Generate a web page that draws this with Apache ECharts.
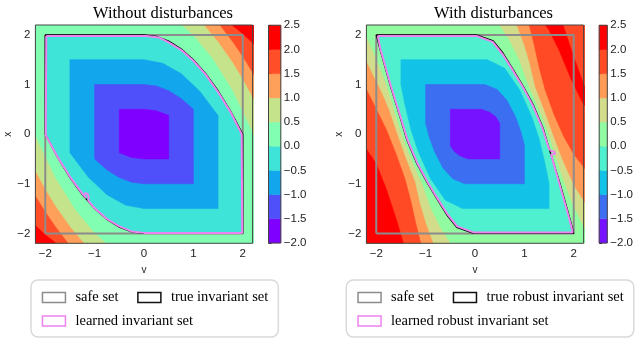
<!DOCTYPE html>
<html><head><meta charset="utf-8">
<script src="https://cdn.jsdelivr.net/npm/echarts@6/dist/echarts.min.js"></script>
<style>html,body{margin:0;padding:0;background:#fff}#c{width:636px;height:338px}</style>
</head><body><div id="c"></div>
<script>
// ---------- data ----------
const vTicks = [-2, -1, 0, 1, 2];
const xTicks = [-2, -1, 0, 1, 2];
const levels = [-2, -1.5, -1, -0.5, 0, 0.5, 1, 1.5, 2, 2.5];
const leftColors  = ['#7f00ff','#4f50fa','#12a6ec','#3ee4d7','#82feb2','#c5e38b','#ffa05a','#ff4e28','#ff0000'];
const rightColors = ['#7612ff','#3c6ef2','#12c3e7','#4ef0cf','#90fba0','#d3dc8a','#ff9b55','#ff4a25','#ff0000'];

const fullBox = [[-2.4,-2.4],[2.4,-2.4],[2.4,2.4],[-2.4,2.4]];

// left panel contour regions
const L_in20 = [[-2,2],[0,2],[0.25,1.97],[0.5,1.875],[0.75,1.72],[1,1.5],[1.25,1.22],[1.5,0.875],[1.75,0.47],[2,0],[2,-2],[0,-2],[-0.25,-1.97],[-0.5,-1.875],[-0.75,-1.72],[-1,-1.5],[-1.25,-1.22],[-1.5,-0.875],[-1.75,-0.47],[-2,0]];
const L_in15 = [[-1.5,1.5],[0,1.5],[0.375,1.43],[0.75,1.22],[1.125,0.87],[1.5,0.375],[1.5,-1.5],[0,-1.5],[-0.375,-1.43],[-0.75,-1.22],[-1.125,-0.87],[-1.5,-0.375]];
const L_in10 = [[-1,1],[0,1],[0.25,0.97],[0.5,0.875],[0.75,0.72],[1,0.5],[1,-1],[0,-1],[-0.25,-0.97],[-0.5,-0.875],[-0.75,-0.72],[-1,-0.5]];
const L_in05 = [[-0.5,0.5],[0,0.5],[0.25,0.47],[0.5,0.375],[0.5,-0.5],[0,-0.5],[-0.25,-0.47],[-0.5,-0.375]];
const L_o05 = [[0.68,2.3],[0.77,2.2],[1.0,2.0],[1.4,1.52],[1.8,0.88],[2.2,0.05],[2.3,-0.2],[2.4,2.4]];
const L_o10 = [[1.16,2.3],[1.22,2.2],[1.5,1.87],[1.8,1.45],[2.0,1.12],[2.2,0.76],[2.3,0.57],[2.4,2.4]];
const L_o15 = [[1.5,2.3],[1.54,2.2],[1.8,1.86],[2.0,1.57],[2.2,1.25],[2.3,1.08],[2.4,2.4]];
const L_o20 = [[1.72,2.3],[1.78,2.2],[2.0,2.03],[2.2,1.84],[2.3,1.74],[2.4,2.4]];
const L_o05b = [[-0.68,-2.3],[-0.77,-2.2],[-1.0,-2.0],[-1.4,-1.52],[-1.8,-0.88],[-2.2,-0.05],[-2.3,0.2],[-2.4,-2.4]];
const L_o10b = [[-1.16,-2.3],[-1.22,-2.2],[-1.5,-1.87],[-1.8,-1.45],[-2.0,-1.12],[-2.2,-0.76],[-2.3,-0.57],[-2.4,-2.4]];
const L_o15b = [[-1.5,-2.3],[-1.54,-2.2],[-1.8,-1.86],[-2.0,-1.57],[-2.2,-1.25],[-2.3,-1.08],[-2.4,-2.4]];
const L_o20b = [[-1.72,-2.3],[-1.78,-2.2],[-2.0,-2.03],[-2.2,-1.84],[-2.3,-1.74],[-2.4,-2.4]];

// right panel contour regions
const R_in20 = [[-2,2],[0.03,2],[0.37,1.88],[0.57,1.63],[0.78,1.29],[0.98,0.96],[1.18,0.59],[1.38,0.12],[1.52,-0.35],[1.72,-0.99],[1.93,-1.73],[2,-2],[-0.03,-2],[-0.37,-1.88],[-0.57,-1.63],[-0.78,-1.29],[-0.98,-0.96],[-1.18,-0.59],[-1.38,-0.12],[-1.52,0.35],[-1.72,0.99],[-1.93,1.73]];
const R_in15 = [[-1.5,1.5],[0.25,1.5],[0.6,1.33],[0.9,0.9],[1.15,0.35],[1.3,-0.1],[1.42,-0.6],[1.5,-1.0],[1.5,-1.5],[-0.25,-1.5],[-0.6,-1.33],[-0.9,-0.9],[-1.15,-0.35],[-1.3,0.1],[-1.42,0.6],[-1.5,1.0]];
const R_in10 = [[-1,1],[0.2,1],[0.45,0.9],[0.65,0.68],[0.82,0.35],[0.93,0.05],[1,-0.22],[1,-1],[-0.21,-1],[-0.45,-0.9],[-0.65,-0.68],[-0.82,-0.35],[-0.93,-0.05],[-1,0.22]];
const R_in05 = [[-0.5,0.5],[0.13,0.5],[0.3,0.44],[0.42,0.35],[0.5,0.22],[0.5,-0.5],[-0.14,-0.5],[-0.3,-0.44],[-0.42,-0.35],[-0.5,-0.23]];
const R_o05 = [[0.4,2.3],[0.5,2.2],[0.7,1.9],[0.9,1.5],[1.08,1.0],[1.28,0.55],[1.48,0.05],[1.62,-0.4],[1.8,-0.95],[2.0,-1.45],[2.2,-1.85],[2.3,-2.05],[2.4,2.4]];
const R_o10 = [[0.78,2.3],[0.85,2.2],[1.0,1.8],[1.12,1.4],[1.22,0.96],[1.4,0.5],[1.58,0.0],[1.75,-0.45],[1.9,-0.8],[2.05,-1.1],[2.2,-1.33],[2.3,-1.5],[2.4,2.4]];
const R_o15 = [[1.06,2.3],[1.1,2.2],[1.2,1.8],[1.3,1.35],[1.42,0.9],[1.6,0.4],[1.8,-0.05],[2.0,-0.4],[2.2,-0.66],[2.3,-0.8],[2.4,2.4]];
const R_o20 = [[1.35,2.3],[1.75,2.3],[1.95,1.7],[2.2,1.0],[2.3,0.8],[2.3,0.5],[2.2,0.6],[1.95,1.1],[1.7,1.7],[1.5,2.1]];
const R_o05b = [[-0.4,-2.3],[-0.5,-2.2],[-0.7,-1.9],[-0.9,-1.5],[-1.08,-1.0],[-1.28,-0.55],[-1.48,-0.05],[-1.62,0.4],[-1.8,1.0],[-2.0,1.5],[-2.2,1.95],[-2.3,2.15],[-2.4,-2.4]];
const R_o10b = [[-0.78,-2.3],[-0.85,-2.2],[-1.0,-1.8],[-1.12,-1.4],[-1.22,-0.96],[-1.4,-0.5],[-1.58,0.0],[-1.75,0.5],[-1.9,0.85],[-2.05,1.15],[-2.2,1.45],[-2.3,1.6],[-2.4,-2.4]];
const R_o15b = [[-1.06,-2.3],[-1.1,-2.2],[-1.2,-1.8],[-1.3,-1.35],[-1.42,-0.9],[-1.6,-0.4],[-1.8,0.1],[-2.0,0.5],[-2.2,0.9],[-2.3,1.05],[-2.4,-2.4]];
const R_o20b = [[-1.3,-2.3],[-1.45,-2.2],[-1.6,-1.7],[-1.8,-1.1],[-2.0,-0.6],[-2.2,-0.3],[-2.3,-0.2],[-2.4,-2.4]];

// boundary curves
const safeSet = [[-2,-2],[2,-2],[2,2],[-2,2],[-2,-2]];
const leftTrue = L_in20.concat([[-2,2]]);
const leftLearned = [[-1.98,1.98],[0.05,1.98],[0.3,1.95],[0.5,1.85],[0.75,1.7],[1.0,1.48],[1.25,1.2],[1.5,0.85],[1.75,0.45],[1.98,0.0],[1.99,-1.99],[0,-1.99],[-0.25,-1.96],[-0.5,-1.86],[-0.75,-1.71],[-1.0,-1.49],[-1.13,-1.34],[-1.12,-1.27],[-1.14,-1.2],[-1.19,-1.19],[-1.21,-1.24],[-1.17,-1.29],[-1.25,-1.2],[-1.5,-0.86],[-1.75,-0.46],[-1.99,-0.02],[-1.98,1.98]];
const rightTrue = R_in20.concat([[-2,2]]);
const rightLearned = [[-1.97,1.98],[0.03,1.98],[0.36,1.86],[0.56,1.61],[0.77,1.28],[0.97,0.95],[1.17,0.58],[1.37,0.11],[1.5,-0.3],[1.55,-0.34],[1.6,-0.35],[1.63,-0.4],[1.59,-0.44],[1.54,-0.41],[1.52,-0.38],[1.71,-1.0],[1.92,-1.74],[1.98,-1.98],[-0.03,-1.98],[-0.36,-1.86],[-0.56,-1.61],[-0.77,-1.28],[-0.97,-0.95],[-1.17,-0.58],[-1.37,-0.11],[-1.51,0.35],[-1.71,0.99],[-1.92,1.73],[-1.97,1.98]];

const leftPolys = [
  {band:4, pts:fullBox},
  {band:5, pts:L_o05},{band:5, pts:L_o05b},
  {band:6, pts:L_o10},{band:6, pts:L_o10b},
  {band:7, pts:L_o15},{band:7, pts:L_o15b},
  {band:8, pts:L_o20},{band:8, pts:L_o20b},
  {band:3, pts:L_in20},{band:2, pts:L_in15},{band:1, pts:L_in10},{band:0, pts:L_in05}
];
const rightPolys = [
  {band:4, pts:fullBox},
  {band:5, pts:R_o05},{band:5, pts:R_o05b},
  {band:6, pts:R_o10},{band:6, pts:R_o10b},
  {band:7, pts:R_o15},{band:7, pts:R_o15b},
  {band:8, pts:R_o20},{band:8, pts:R_o20b},
  {band:3, pts:R_in20},{band:2, pts:R_in15},{band:1, pts:R_in10},{band:0, pts:R_in05}
];

// ---------- chart ----------
const SANS = 'Liberation Sans';
const SERIF = 'Liberation Serif';
const minus = s => String(s).replace('-', '\u2212');
const tickFmt = v => minus(v);
const cbFmt = v => minus(v.toFixed(1));

function mainAxes(idx) {
  return {
    x: {type:'value', gridIndex:idx, min:-2.2, max:2.2, name:'v', nameLocation:'middle', nameGap:19,
        nameTextStyle:{fontFamily:SANS, fontSize:10, color:'#222'},
        axisLine:{show:false}, splitLine:{show:false},
        axisTick:{show:true, customValues:vTicks, length:3.5, lineStyle:{color:'#222', width:1}},
        axisLabel:{customValues:vTicks, formatter:tickFmt, fontFamily:SANS, fontSize:11.5, color:'#222', margin:5}},
    y: {type:'value', gridIndex:idx, min:-2.2, max:2.2, name:'x', nameLocation:'middle', nameGap:22, nameRotate:90,
        nameTextStyle:{fontFamily:SANS, fontSize:10, color:'#222'},
        axisLine:{show:false}, splitLine:{show:false},
        axisTick:{show:true, customValues:xTicks, length:3.5, lineStyle:{color:'#222', width:1}},
        axisLabel:{customValues:xTicks, formatter:tickFmt, fontFamily:SANS, fontSize:11.5, color:'#222', margin:5}}
  };
}
function cbAxes(idx) {
  return {
    x: {type:'value', gridIndex:idx, min:0, max:1, show:false},
    y: {type:'value', gridIndex:idx, min:-2, max:2.5, interval:0.5, position:'right',
        axisLine:{show:false}, splitLine:{show:false},
        axisTick:{show:true, length:3, lineStyle:{color:'#222', width:1}},
        axisLabel:{formatter:cbFmt, fontFamily:SANS, fontSize:11.5, color:'#222', margin:3}}
  };
}
function contourSeries(polys, colors, ai) {
  return {type:'custom', xAxisIndex:ai, yAxisIndex:ai, clip:true, silent:true, z:1,
    data: polys.map((p,i)=>[p.pts[0][0], p.pts[0][1], i]),
    renderItem:(params, api)=>{
      const p = polys[params.dataIndex];
      return {type:'polygon', shape:{points:p.pts.map(pt=>api.coord(pt))},
              style:{fill:colors[p.band], stroke:colors[p.band], lineWidth:0.6}};
    }};
}
function frameSeries(ai, x0, x1, y0, y1) {
  return {type:'custom', xAxisIndex:ai, yAxisIndex:ai, clip:false, silent:true, z:10,
    data:[[x0,y0]],
    renderItem:(params, api)=>{
      const a = api.coord([x0,y1]), b = api.coord([x1,y0]);
      return {type:'rect', shape:{x:a[0], y:a[1], width:b[0]-a[0], height:b[1]-a[1]},
              style:{fill:null, stroke:'#444', lineWidth:1}};
    }};
}
function colorbarSeries(colors, ai) {
  return {type:'custom', xAxisIndex:ai, yAxisIndex:ai, clip:false, silent:true, z:1,
    data: levels.slice(0,-1).map((lo,i)=>[0.5, lo, i]),
    renderItem:(params, api)=>{
      const i = params.dataIndex;
      const a = api.coord([0, levels[i+1]]), b = api.coord([1, levels[i]]);
      return {type:'rect', shape:{x:a[0], y:a[1], width:b[0]-a[0], height:b[1]-a[1]},
              style:{fill:colors[i], stroke:colors[i], lineWidth:0.5}};
    }};
}
function lineSeries(name, data, ai, color, width, z) {
  return {type:'line', name, data, xAxisIndex:ai, yAxisIndex:ai, showSymbol:false, symbol:'none',
          silent:true, z, lineStyle:{color, width}, itemStyle:{color}, clip:true};
}

const A0 = mainAxes(0), C1 = cbAxes(1), A2 = mainAxes(2), C3 = cbAxes(3);

const legendCommon = {
  orient:'horizontal', itemWidth:23, itemHeight:10, itemGap:8.6, icon:'rect',
  backgroundColor:'#fff', borderColor:'#d9d9d9', borderWidth:1.5, borderRadius:7,
  selectedMode:false,
  formatter: n => '{a|}' + n + '{b|}',
  textStyle:{fontFamily:SERIF, fontSize:14.5, color:'#000', lineHeight:15,
             rich:{a:{width:5}, b:{width:10}}}
};
const patch = (name, c) => ({name, icon:'rect', itemStyle:{color:'#fff', borderColor:c, borderWidth:1.5}});

const option = {
  animation:false,
  backgroundColor:'#fff',
  title:[
    {text:'Without disturbances', left:158, top:0, textAlign:'center',
     textStyle:{fontFamily:SERIF, fontSize:16.5, fontWeight:'normal', color:'#000'}},
    {text:'With disturbances', left:488.5, top:0, textAlign:'center',
     textStyle:{fontFamily:SERIF, fontSize:16.5, fontWeight:'normal', color:'#000'}}
  ],
  grid:[
    {left:35.4, top:25, width:217.2, height:218.3},
    {left:268.5, top:25.3, width:12.3, height:217.7},
    {left:366.4, top:25, width:217.2, height:218.3},
    {left:599.2, top:25.3, width:12, height:217.7}
  ],
  xAxis:[A0.x, C1.x, A2.x, C3.x],
  yAxis:[A0.y, C1.y, A2.y, C3.y],
  legend:[
    Object.assign({}, legendCommon, {left:31, top:280, width:240, padding:[10,0,8.4,10.7],
      data:[patch('safe set','#8c8c8c'), patch('true invariant set','#111'), patch('learned invariant set','violet')]}),
    Object.assign({}, legendCommon, {left:346.3, top:280, width:280, padding:[10,0,8.4,11],
      data:[patch('safe set','#8c8c8c'), patch('true robust invariant set','#111'), patch('learned robust invariant set','violet')]})
  ],
  series:[
    contourSeries(leftPolys, leftColors, 0),
    lineSeries('safe set', safeSet, 0, '#8c8c8c', 2, 3),
    lineSeries('true invariant set', leftTrue, 0, '#000', 1.3, 4),
    lineSeries('learned invariant set', leftLearned, 0, 'violet', 2, 5),
    frameSeries(0, -2.2, 2.2, -2.2, 2.2),
    colorbarSeries(leftColors, 1),
    frameSeries(1, 0, 1, -2, 2.5),
    contourSeries(rightPolys, rightColors, 2),
    lineSeries('safe set', safeSet, 2, '#8c8c8c', 2, 3),
    lineSeries('true robust invariant set', rightTrue, 2, '#000', 1.3, 4),
    lineSeries('learned robust invariant set', rightLearned, 2, 'violet', 2, 5),
    frameSeries(2, -2.2, 2.2, -2.2, 2.2),
    colorbarSeries(rightColors, 3),
    frameSeries(3, 0, 1, -2, 2.5)
  ]
};
const chart = echarts.init(document.getElementById('c'), null, {renderer:'canvas'});
chart.setOption(option);
</script></body></html>
